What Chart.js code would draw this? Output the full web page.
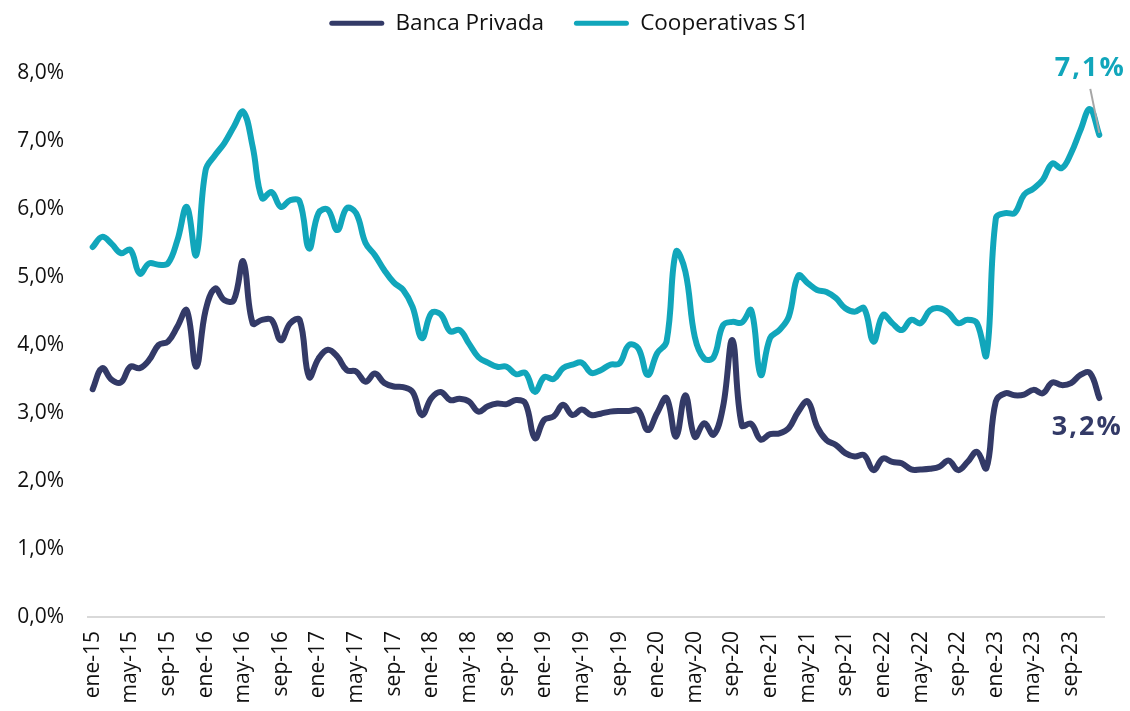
<!DOCTYPE html>
<html>
<head>
<meta charset="utf-8">
<script src="https://cdn.jsdelivr.net/npm/chart.js@4/dist/chart.umd.min.js"></script>
<style>
  html, body { margin: 0; padding: 0; background: #fff; }
  #wrap { width: 1130px; height: 711px; }
</style>
</head>
<body>
<div id="wrap"><canvas id="chart"></canvas></div>
<script>
const MESES = ['ene', 'feb', 'mar', 'abr', 'may', 'jun', 'jul', 'ago', 'sep', 'oct', 'nov', 'dic']
const ANIOS = ['15', '16', '17', '18', '19', '20', '21', '22', '23']
const labels = ANIOS.flatMap(a => MESES.map(m => m + '-' + a))

const bancaPrivada = [
  3.35, 3.66, 3.49, 3.45, 3.68, 3.66, 3.78, 4.00, 4.05, 4.27,
  4.51, 3.68, 4.51, 4.83, 4.66, 4.66, 5.23, 4.32, 4.37, 4.37,
  4.07, 4.32, 4.37, 3.53, 3.80, 3.93, 3.83, 3.63, 3.61, 3.46,
  3.58, 3.44, 3.39, 3.38, 3.31, 2.97, 3.22, 3.31, 3.19, 3.21,
  3.17, 3.02, 3.10, 3.14, 3.13, 3.19, 3.14, 2.63, 2.90, 2.95,
  3.12, 2.97, 3.05, 2.97, 2.99, 3.02, 3.03, 3.03, 3.04, 2.75,
  3.00, 3.22, 2.65, 3.26, 2.65, 2.85, 2.68, 3.09, 4.07, 2.82,
  2.84, 2.61, 2.69, 2.70, 2.78, 3.02, 3.17, 2.80, 2.60, 2.53,
  2.41, 2.36, 2.38, 2.16, 2.33, 2.28, 2.26, 2.17, 2.17, 2.18,
  2.21, 2.30, 2.16, 2.28, 2.43, 2.19, 3.17, 3.29, 3.26, 3.27,
  3.34, 3.29, 3.45, 3.41, 3.44, 3.56, 3.59, 3.22
]

const cooperativasS1 = [
  5.44, 5.59, 5.49, 5.35, 5.40, 5.05, 5.20, 5.18, 5.20, 5.54,
  6.03, 5.32, 6.57, 6.79, 6.97, 7.21, 7.43, 6.92, 6.16, 6.25,
  6.03, 6.13, 6.11, 5.42, 5.94, 5.99, 5.69, 6.01, 5.94, 5.50,
  5.32, 5.10, 4.92, 4.81, 4.56, 4.10, 4.47, 4.45, 4.20, 4.22,
  4.02, 3.82, 3.74, 3.68, 3.68, 3.57, 3.59, 3.31, 3.53, 3.50,
  3.66, 3.71, 3.74, 3.59, 3.63, 3.71, 3.73, 4.00, 3.95, 3.56,
  3.88, 4.05, 5.37, 5.08, 4.12, 3.80, 3.82, 4.29, 4.34, 4.33,
  4.51, 3.56, 4.10, 4.22, 4.42, 5.02, 4.91, 4.81, 4.78, 4.69,
  4.54, 4.49, 4.54, 4.05, 4.44, 4.32, 4.22, 4.37, 4.32, 4.51,
  4.54, 4.47, 4.32, 4.37, 4.32, 3.85, 5.86, 5.94, 5.94, 6.21,
  6.30, 6.43, 6.67, 6.60, 6.82, 7.16, 7.47, 7.09
]

const NAVY = '#333a67'
const CYAN = '#11a6bb'
const FONT = '"Open Sans", "Noto Sans", sans-serif'

const pct = v => v.toFixed(1).replace('.', ',') + '%'

// fija la altura de la leyenda para que el área del gráfico empiece donde toca
const legendHeight = {
  id: 'legendHeight',
  beforeInit(chart) {
    const fit = chart.legend.fit
    chart.legend.fit = function () { fit.call(this); this.height = 73 }
  },
  afterLayout(chart) {
    // la leyenda original está algo desplazada a la derecha y más arriba
    chart.legend.left += 17
    chart.legend.right += 17
    chart.legend.top -= 18
  }
}

// etiquetas del último valor de cada serie
const lastLabels = {
  id: 'lastLabels',
  afterDatasetsDraw(chart) {
    const { ctx } = chart
    const n = labels.length - 1
    const x = chart.scales.x.getPixelForValue(n)
    const yC = chart.scales.y.getPixelForValue(cooperativasS1[n])
    const yB = chart.scales.y.getPixelForValue(bancaPrivada[n])
    ctx.save()
    ctx.strokeStyle = '#a6a6a6'
    ctx.lineWidth = 2
    ctx.beginPath()
    ctx.moveTo(x - 9, yC - 46)
    ctx.lineTo(x, yC - 2)
    ctx.stroke()
    ctx.font = 'bold 27px ' + FONT
    ctx.textAlign = 'center'
    ctx.textBaseline = 'middle'
    if ('letterSpacing' in ctx) ctx.letterSpacing = '2px'
    ctx.fillStyle = CYAN
    ctx.fillText(pct(cooperativasS1[n]), x - 9, yC - 67)
    ctx.fillStyle = NAVY
    ctx.fillText(pct(bancaPrivada[n]), x - 12, yB + 29)
    ctx.restore()
  }
}

new Chart(document.getElementById('chart'), {
  type: 'line',
  data: {
    labels,
    datasets: [
      { label: 'Banca Privada', data: bancaPrivada, borderColor: NAVY, backgroundColor: NAVY, borderWidth: 6, tension: 0.4, pointRadius: 0, borderCapStyle: 'round', borderJoinStyle: 'round' },
      { label: 'Cooperativas S1', data: cooperativasS1, borderColor: CYAN, backgroundColor: CYAN, borderWidth: 6, tension: 0.4, pointRadius: 0, borderCapStyle: 'round', borderJoinStyle: 'round' }
    ]
  },
  options: {
    responsive: true, maintainAspectRatio: false, animation: false,
    layout: { padding: { left: 0, right: 26, top: 0, bottom: 0 } },
    plugins: {
      legend: {
        position: 'top',
        labels: {
          color: '#111', font: { family: FONT, size: 22.5 },
          boxWidth: 55, boxHeight: 5, padding: 30, useBorderRadius: true, borderRadius: 2.5,
          generateLabels: chart => Chart.defaults.plugins.legend.labels.generateLabels(chart)
            .map(l => ({ ...l, lineWidth: 0, fillStyle: l.strokeStyle }))
        }
      },
      tooltip: { enabled: false }
    },
    scales: {
      x: {
        offset: true,
        grid: { display: false, drawTicks: false },
        border: { display: true, color: '#d9d9d9', width: 2 },
        ticks: {
          color: '#111', font: { family: FONT, size: 21 }, padding: 14,
          autoSkip: false, maxRotation: 90, minRotation: 90,
          callback: (v, i) => i % 4 === 0 ? labels[i] : ''
        },
        afterFit: s => { s.height = 94; s.paddingLeft = 0; s.paddingRight = 0 }
      },
      y: {
        min: 0, max: 8,
        grid: { display: false, drawTicks: false },
        border: { display: false },
        ticks: { stepSize: 1, color: '#111', font: { family: FONT, size: 21 }, padding: 24, callback: v => pct(v) },
        afterFit: s => { s.width = 88 }
      }
    }
  },
  plugins: [legendHeight, lastLabels]
})
</script>
</body>
</html>
